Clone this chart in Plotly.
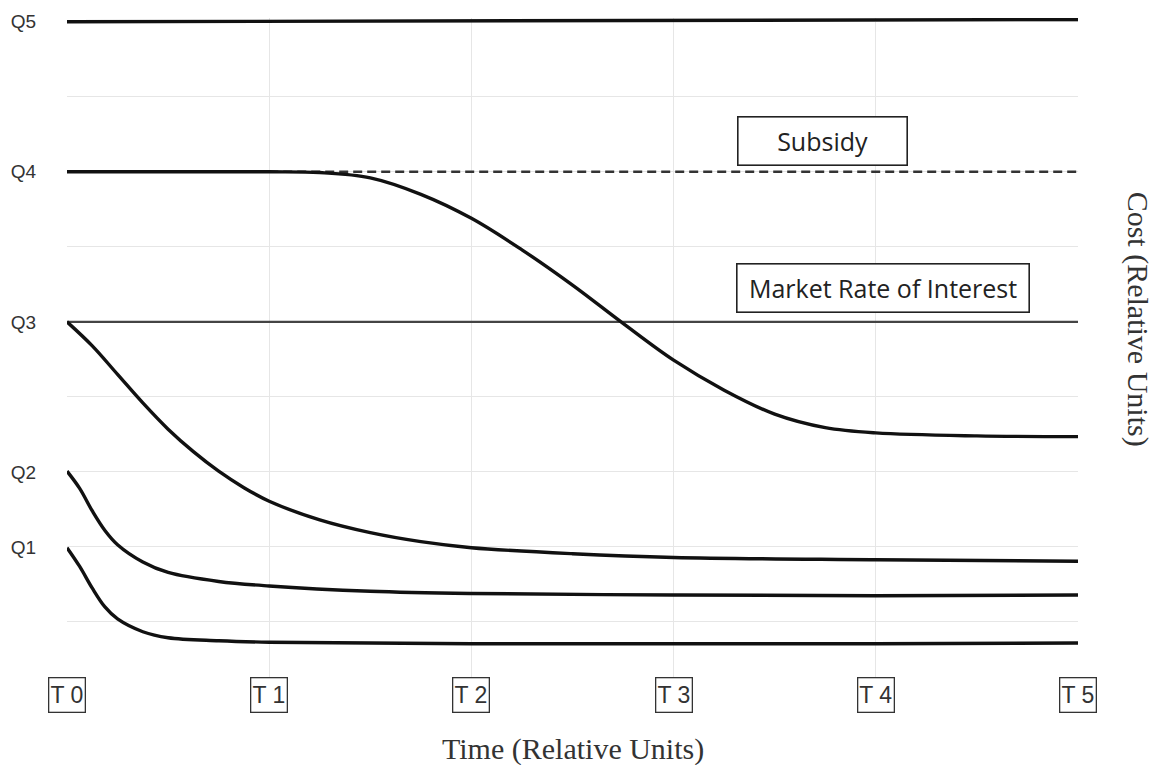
import plotly.graph_objects as go

# ---- data (relative units) ----
time_ticks = [0, 1, 2, 3, 4, 5]
time_labels = ["T 0", "T 1", "T 2", "T 3", "T 4", "T 5"]
cost_ticks = [2, 3, 5, 7, 9]
cost_labels = ["Q1", "Q2", "Q3", "Q4", "Q5"]

q5_x = [0, 5]
q5_y = [9.0, 9.03]

market_x = [0, 5]
market_y = [5.0, 5.0]

subsidy_x = [1, 5]
subsidy_y = [7.0, 7.0]

q4_x = [0, 0.5, 1.0, 1.25, 1.5, 1.75, 2.0, 2.25, 2.5, 2.75, 3.0, 3.25, 3.5, 3.75,
        4.0, 4.5, 5.0]
q4_y = [7.0, 7.0, 7.0, 6.99, 6.92, 6.70, 6.38, 5.96, 5.49, 4.98, 4.49, 4.09, 3.77,
        3.59, 3.52, 3.48, 3.47]

q3_x = [0, 0.125, 0.25, 0.375, 0.5, 0.625, 0.75, 0.875, 1.0, 1.25, 1.5, 1.75, 2.0,
        2.5, 3.0, 4.0, 5.0]
q3_y = [5.0, 4.68, 4.30, 3.92, 3.57, 3.27, 3.01, 2.79, 2.61, 2.36, 2.19, 2.07, 1.99,
        1.91, 1.86, 1.83, 1.81]

q2_x = [0, 0.0625, 0.125, 0.1875, 0.25, 0.375, 0.5, 0.75, 1.0, 1.5, 2.0, 3.0, 4.0, 5.0]
q2_y = [3.01, 2.78, 2.48, 2.22, 2.03, 1.8, 1.66, 1.54, 1.48, 1.41, 1.38, 1.36, 1.35, 1.36]

q1_x = [0, 0.0625, 0.125, 0.1875, 0.25, 0.375, 0.5, 0.75, 1.0, 1.5, 2.0, 3.0, 4.0, 5.0]
q1_y = [1.99, 1.74, 1.45, 1.2, 1.04, 0.87, 0.79, 0.75, 0.73, 0.72, 0.71, 0.71, 0.71, 0.72]

fig = go.Figure()

def add_line(x, y, color="#111111", width=3.4, dash="solid", shape="spline"):
    fig.add_trace(go.Scatter(
        x=x, y=y, mode="lines",
        line=dict(color=color, width=width, dash=dash, shape=shape, smoothing=1.0),
        hoverinfo="skip", showlegend=False))

add_line(market_x, market_y, color="#444444", width=2.2, shape="linear")
add_line(subsidy_x, subsidy_y, color="#333333", width=2.4, dash="9px,5px", shape="linear")
add_line(q5_x, q5_y, shape="linear")
add_line(q4_x, q4_y)
add_line(q3_x, q3_y)
add_line(q2_x, q2_y)
add_line(q1_x, q1_y)

grid = "#e6e6e6"
annotations = []
for xv, lab in zip(time_ticks, time_labels):
    annotations.append(dict(
        x=xv, y=0.03, xref="x", yref="y", text=lab, showarrow=False,
        font=dict(family="Liberation Sans, Arial", size=23, color="#333333"),
        bordercolor="#333333", borderwidth=1.3, borderpad=0,
        bgcolor="white", width=35, height=33,
        xanchor="center", yanchor="middle"))

annotations.append(dict(
    x=3.734, y=7.41, xref="x", yref="y", text="Subsidy", showarrow=False,
    font=dict(family="Open Sans", size=25, color="#222222"),
    bordercolor="#222222", borderwidth=1.6, borderpad=1,
    bgcolor="white", width=166, height=45, xanchor="center", yanchor="middle"))
annotations.append(dict(
    x=4.036, y=5.45, xref="x", yref="y", text="Market Rate of Interest", showarrow=False,
    font=dict(family="Open Sans", size=25, color="#222222"),
    bordercolor="#222222", borderwidth=1.6, borderpad=1,
    bgcolor="white", width=289, height=45, xanchor="center", yanchor="middle"))

annotations.append(dict(
    x=1.0593, y=5.03, xref="paper", yref="y", text="Cost (Relative Units)",
    showarrow=False, textangle=90,
    font=dict(family="Liberation Serif, Times New Roman", size=30, color="#333333"),
    xanchor="center", yanchor="middle"))
annotations.append(dict(
    x=0.5, y=-0.0766, xref="paper", yref="paper", text="Time (Relative Units)",
    showarrow=False,
    font=dict(family="Liberation Serif, Times New Roman", size=30, color="#333333"),
    xanchor="center", yanchor="middle"))

fig.update_layout(
    width=1155, height=765, autosize=False,
    margin=dict(l=67, r=77, t=18, b=68),
    paper_bgcolor="white", plot_bgcolor="white",
    annotations=annotations,
    xaxis=dict(range=[0, 5], tickvals=time_ticks, showticklabels=False,
               showgrid=True, gridcolor=grid, gridwidth=1,
               zeroline=False, showline=False, ticks=""),
    yaxis=dict(range=[0, 9.05], tickvals=cost_ticks, ticktext=cost_labels,
               showgrid=True, gridcolor=grid, gridwidth=1,
               zeroline=False, showline=False, ticks="",
               ticklabelstandoff=30,
               tickfont=dict(family="Liberation Sans, Arial", size=19, color="#333333"),
               minor=dict(tickvals=list(range(0, 10)), showgrid=True,
                          gridcolor=grid, gridwidth=1)),
)

fig.write_html("out.html", config={"displayModeBar": False},
               post_script="document.body.style.margin='0';document.body.style.overflow='hidden';")
